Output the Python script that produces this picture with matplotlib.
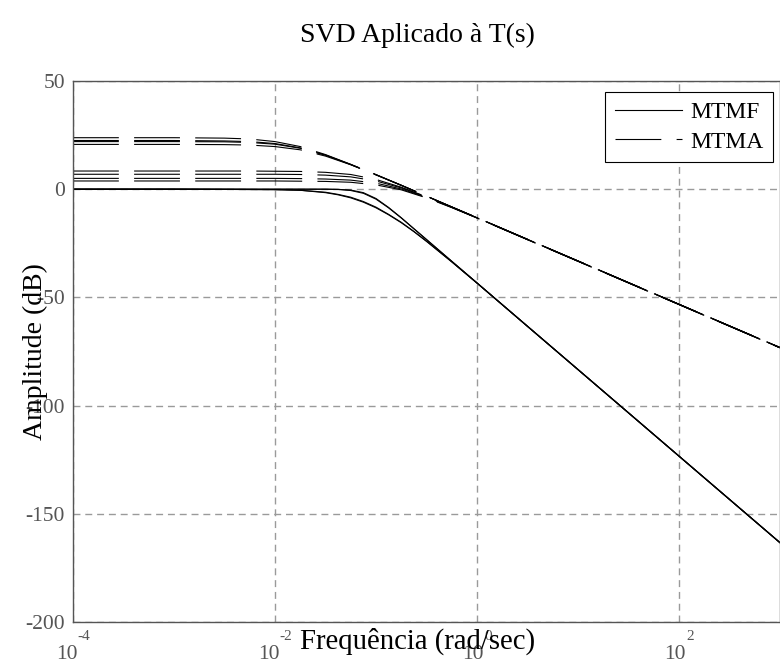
import matplotlib
matplotlib.use('Agg')
import matplotlib.pyplot as plt
from matplotlib.ticker import NullLocator
from matplotlib.transforms import ScaledTranslation

# frequencies (rad/s) where the curves were read
w_mtma = [1e-4, 1e-3, 0.00316, 0.00562, 0.01, 0.0178, 0.0316, 0.0562, 0.1,
          0.178, 0.316, 0.562, 1, 3.16, 10, 100, 1000]
w_mtmf = [1e-4, 1e-3, 0.01, 0.0178, 0.0316, 0.0422, 0.0562, 0.075, 0.1,
          0.133, 0.178, 0.237, 0.316, 0.562, 1, 3.16, 10, 100, 1000]

# singular values, malha aberta (dashed)
mtma_1 = [23.8, 23.8, 23.6, 23.2, 22.0, 19.7, 16.0, 11.5, 6.7, 1.8, -3.2, -8.2, -13.2, -23.2, -33.2, -53.2, -73.2]
mtma_2 = [22.5, 22.5, 22.3, 22.0, 21.1, 19.1, 15.8, 11.4, 6.7, 1.8, -3.2, -8.2, -13.2, -23.2, -33.2, -53.2, -73.2]
mtma_3 = [22.0, 22.0, 21.9, 21.6, 20.8, 18.9, 15.7, 11.4, 6.7, 1.8, -3.2, -8.2, -13.2, -23.2, -33.2, -53.2, -73.2]
mtma_4 = [20.7, 20.7, 20.6, 20.4, 19.7, 18.2, 15.3, 11.3, 6.6, 1.8, -3.2, -8.2, -13.2, -23.2, -33.2, -53.2, -73.2]
mtma_5 = [8.4, 8.4, 8.4, 8.4, 8.3, 8.2, 7.8, 6.8, 4.5, 0.9, -3.5, -8.3, -13.2, -23.2, -33.2, -53.2, -73.2]
mtma_6 = [6.9, 6.9, 6.9, 6.9, 6.9, 6.8, 6.5, 5.7, 3.8, 0.6, -3.6, -8.3, -13.2, -23.2, -33.2, -53.2, -73.2]
mtma_7 = [5.0, 5.0, 5.0, 5.0, 5.0, 4.9, 4.7, 4.2, 2.8, 0.1, -3.8, -8.4, -13.3, -23.3, -33.3, -53.3, -73.3]
mtma_8 = [3.8, 3.8, 3.8, 3.8, 3.8, 3.7, 3.6, 3.2, 2.0, -0.3, -4.0, -8.5, -13.3, -23.3, -33.3, -53.3, -73.3]

# singular values, malha fechada (solid)
mtmf_1 = [0, 0, 0.0, 0.0, 0.0, -0.1, -0.4, -1.6, -4.3, -8.4, -13.2, -18.2, -23.2, -33.3, -43.3, -63.3, -83.3, -123.3, -163.3]
mtmf_2 = [0, 0, 0.0, 0.0, 0.0, -0.1, -0.6, -1.9, -4.6, -8.6, -13.3, -18.3, -23.3, -33.3, -43.3, -63.3, -83.3, -123.3, -163.3]
mtmf_3 = [0, 0, -0.2, -0.5, -1.6, -2.6, -4.0, -6.0, -8.6, -11.8, -15.5, -19.6, -24.1, -33.6, -43.4, -63.4, -83.4, -123.4, -163.4]
mtmf_4 = [0, 0, -0.2, -0.5, -1.4, -2.4, -3.7, -5.7, -8.3, -11.6, -15.3, -19.5, -24.0, -33.5, -43.4, -63.4, -83.4, -123.4, -163.4]

mtma = [mtma_1, mtma_2, mtma_3, mtma_4, mtma_5, mtma_6, mtma_7, mtma_8]
mtmf = [mtmf_1, mtmf_2, mtmf_3, mtmf_4]

xticks = [1e-4, 1e-2, 1e0, 1e2]
xexp = ['-4', '-2', '0', '2']
yticks = [-200, -150, -100, -50, 0, 50]
ylabels = ['-200', '-150', '-100', '-50', '0', '50']

plt.rcParams['font.family'] = ['Liberation Serif', 'DejaVu Serif']
plt.rcParams['lines.scale_dashes'] = False
plt.rcParams['axes.unicode_minus'] = False

gray = '#555555'

fig = plt.figure(figsize=(7.8, 6.71), dpi=100)
ax = fig.add_axes([73/780, 49/671, 707/780, 541/671])

for s in mtmf:
    lf, = ax.semilogx(w_mtmf, s, color='k', lw=0.8)
for s in mtma:
    la, = ax.semilogx(w_mtma, s, color='k', lw=0.8, dashes=(33, 11))

ax.set_xlim(1e-4, 1e3)
ax.set_ylim(-200, 50)
ax.set_xticks(xticks)
ax.set_xticklabels([])
ax.xaxis.set_minor_locator(NullLocator())
ax.set_yticks(yticks)
ax.set_yticklabels(ylabels, fontsize=15.5, color=gray)
ax.tick_params(length=0, pad=5.8)
ax.grid(True, color='#9a9a9a', ls=(0, (5, 3.5)), lw=1.0)
ax.set_axisbelow(True)
for sp in ax.spines.values():
    sp.set_color(gray)
    sp.set_linewidth(1.0)

# x tick labels: "10" with raised exponent, centred on the tick
trans = ax.get_xaxis_transform()
pairs = []
for t, e in zip(xticks, xexp):
    b = ax.text(t, 0, '10', transform=trans, ha='right', va='baseline',
                fontsize=15.5, color=gray, clip_on=False)
    p = ax.text(t, 0, e, transform=trans, ha='left', va='baseline',
                fontsize=11, color=gray, clip_on=False)
    pairs.append((b, p))
fig.canvas.draw()
r = fig.canvas.get_renderer()
for b, p in pairs:
    wb = b.get_window_extent(r).width
    wp = p.get_window_extent(r).width
    dx = (wb - wp) / 2 / fig.dpi
    b.set_transform(trans + ScaledTranslation(dx, -37 / fig.dpi, fig.dpi_scale_trans))
    p.set_transform(trans + ScaledTranslation(dx, -18 / fig.dpi, fig.dpi_scale_trans))

fig.text(417/780, 1 - 35/671, 'SVD Aplicado à T(s)', ha='center', va='center', fontsize=20)
fig.text(418/780, 1 - 641/671, 'Frequência (rad/sec)', ha='center', va='center', fontsize=20.7)
fig.text(35/780, 1 - 352/671, 'Amplitude (dB)', rotation=90, ha='center', va='center', fontsize=20)

leg = ax.legend([lf, la], ['MTMF', 'MTMA'], loc='upper right',
                bbox_to_anchor=(773/780, 1 - 92/671), bbox_transform=fig.transFigure,
                borderaxespad=0, fontsize=17, handlelength=2.85, handletextpad=0.35,
                labelspacing=0.35, borderpad=0.4, fancybox=False, framealpha=1,
                edgecolor='k')
leg.get_frame().set_linewidth(0.8)

fig.savefig('out.png', dpi=100)
